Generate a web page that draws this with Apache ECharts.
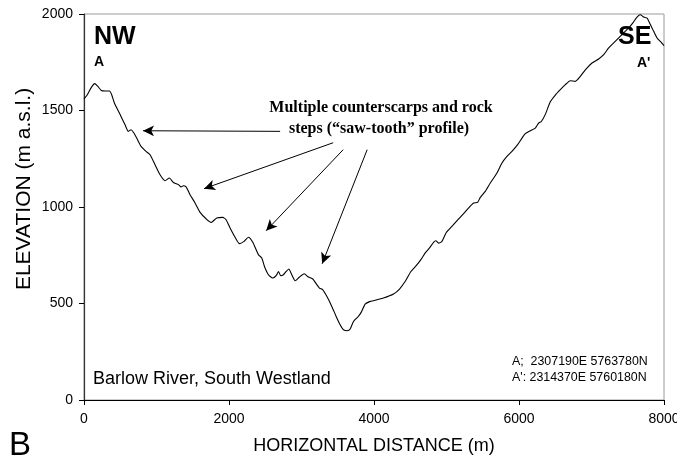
<!DOCTYPE html>
<html>
<head>
<meta charset="utf-8">
<script src="https://cdn.jsdelivr.net/npm/echarts@6/dist/echarts.min.js"></script>
<style>
  html, body { margin: 0; padding: 0; background: #fff; }
  #chart { width: 677px; height: 464px; }
</style>
</head>
<body>
<div id="chart"></div>
<script>
// Cross-section A–A' across the Barlow River valley, South Westland
const distance = [0,46,97,147,184,239,290,350,382,419,488,566,612,649,681,727,787,856,911,980,1049,1118,1178,1233,1302,1339,1371,1408,1463,1532,1601,1684,1753,1832,1914,1960,2015,2084,2144,2208,2268,2328,2406,2452,2489,2544,2604,2650,2682,2714,2751,2788,2825,2866,2912,2972,3037,3096,3156,3202,3248,3294,3349,3418,3478,3533,3579,3634,3671,3717,3777,3823,3878,3948,3993,4131,4269,4352,4431,4509,4582,4647,4707,4766,4822,4853,4891,4937,4997,5075,5167,5245,5305,5374,5429,5466,5535,5604,5696,5765,5834,5903,5981,6041,6087,6156,6225,6271,6308,6363,6432,6501,6570,6639,6708,6777,6846,6915,7007,7099,7168,7237,7306,7375,7444,7513,7568,7628,7674,7720,7767,7812,7858,7904,7950,8000];
const elevation = [1560,1582,1617,1639,1628,1604,1601,1601,1582,1539,1487,1426,1392,1400,1387,1357,1314,1288,1271,1219,1167,1136,1150,1127,1116,1104,1110,1104,1064,1021,972,939,920,943,946,934,891,843,810,822,843,817,753,736,692,649,632,644,666,644,649,666,679,649,618,637,654,637,627,603,580,571,537,485,433,390,364,359,368,407,430,454,497,511,514,528,549,575,615,666,696,727,762,788,817,825,813,822,868,900,938,969,995,1021,1024,1050,1081,1124,1176,1228,1262,1288,1323,1357,1380,1395,1409,1435,1443,1480,1545,1580,1608,1634,1654,1651,1677,1711,1746,1767,1789,1824,1850,1876,1902,1928,1953,1984,1996,1984,1979,1945,1910,1876,1858,1836];

const xTicks = [0, 2000, 4000, 6000, 8000];
const yTicks = [0, 500, 1000, 1500, 2000];

// Arrows pointing at the counterscarps: [start distance, start elevation] -> [tip distance, tip elevation]
const arrowFrom = [[2705, 1392], [3437, 1333], [3575, 1297], [3906, 1297]];
const arrowTo   = [[814, 1395], [1656, 1095], [2512, 877], [3285, 706]];

const noteLines = ['Multiple counterscarps and rock', 'steps (\u201csaw-tooth\u201d profile)'];
const coordLines = ['A;  2307190E 5763780N', "A': 2314370E 5760180N"];

const sans = "'Liberation Sans', Arial, Helvetica, sans-serif";
const serif = "'Liberation Serif', 'Times New Roman', serif";

const chart = echarts.init(document.getElementById('chart'), null, { renderer: 'canvas' });

const profile = distance.map((d, i) => [d, elevation[i]]);
const arrows = arrowFrom.map((s, i) => [{ coord: s }, { coord: arrowTo[i] }]);
const plain = v => String(v);

chart.setOption({
  animation: false,
  backgroundColor: '#fff',
  grid: {
    left: 84, right: 13, top: 14, bottom: 64,
    outerBoundsMode: 'none', containLabel: false,
    show: true, borderColor: '#9a9a9a', borderWidth: 1
  },
  xAxis: {
    type: 'value',
    min: xTicks[0], max: xTicks[xTicks.length - 1], interval: 2000,
    name: 'HORIZONTAL DISTANCE (m)',
    nameLocation: 'middle', nameGap: 37,
    nameTextStyle: { fontFamily: sans, fontSize: 18, color: '#000' },
    axisLine: { show: true, onZero: false, lineStyle: { color: '#000', width: 1 } },
    axisTick: { show: true, inside: false, length: 5, lineStyle: { color: '#000' } },
    axisLabel: { margin: 12, fontFamily: sans, fontSize: 14, color: '#000', formatter: plain, hideOverlap: false },
    splitLine: { show: false }
  },
  yAxis: {
    type: 'value',
    min: yTicks[0], max: yTicks[yTicks.length - 1], interval: 500,
    axisLine: { show: true, onZero: false, lineStyle: { color: '#333', width: 1.2 } },
    axisTick: { show: true, inside: false, length: 5, lineStyle: { color: '#000' } },
    axisLabel: { margin: 11, fontFamily: sans, fontSize: 14, color: '#000', formatter: plain },
    splitLine: { show: false }
  },
  series: [{
    type: 'line',
    data: profile,
    showSymbol: false,
    smooth: 0.2,
    lineStyle: { color: '#000', width: 1.1 },
    silent: true,
    markLine: {
      silent: true,
      symbol: ['none', 'arrow'],
      symbolSize: [8, 11],
      label: { show: false },
      lineStyle: { color: '#000', width: 1, type: 'solid' },
      data: arrows
    }
  }],
  graphic: [
    { type: 'text', z: 100, x: 24, y: 189, rotation: Math.PI / 2,
      style: { text: 'ELEVATION (m a.s.l.)', font: '21px ' + sans, fill: '#000', align: 'center', verticalAlign: 'middle' } },
    { type: 'text', z: 100, x: 94, y: 37,
      style: { text: 'NW', font: 'bold 25px ' + sans, fill: '#000', align: 'left', verticalAlign: 'middle' } },
    { type: 'text', z: 100, x: 94, y: 62.5,
      style: { text: 'A', font: 'bold 14px ' + sans, fill: '#000', align: 'left', verticalAlign: 'middle' } },
    { type: 'text', z: 100, x: 618, y: 37,
      style: { text: 'SE', font: 'bold 25px ' + sans, fill: '#000', align: 'left', verticalAlign: 'middle' } },
    { type: 'text', z: 100, x: 637, y: 63,
      style: { text: "A'", font: 'bold 14px ' + sans, fill: '#000', align: 'left', verticalAlign: 'middle' } },
    { type: 'text', z: 100, x: 381, y: 107.5,
      style: { text: noteLines[0], font: 'bold 16px ' + serif, fill: '#000', align: 'center', verticalAlign: 'middle' } },
    { type: 'text', z: 100, x: 379, y: 128.5,
      style: { text: noteLines[1], font: 'bold 16px ' + serif, fill: '#000', align: 'center', verticalAlign: 'middle' } },
    { type: 'text', z: 100, x: 93, y: 379,
      style: { text: 'Barlow River, South Westland', font: '18px ' + sans, fill: '#000', align: 'left', verticalAlign: 'middle' } },
    { type: 'text', z: 100, x: 512, y: 361.5,
      style: { text: coordLines[0], font: '12.4px ' + sans, fill: '#000', align: 'left', verticalAlign: 'middle' } },
    { type: 'text', z: 100, x: 512, y: 377.5,
      style: { text: coordLines[1], font: '12.4px ' + sans, fill: '#000', align: 'left', verticalAlign: 'middle' } },
    { type: 'text', z: 100, x: 9, y: 446,
      style: { text: 'B', font: '33px ' + sans, fill: '#000', align: 'left', verticalAlign: 'middle' } }
  ]
});
</script>
</body>
</html>
